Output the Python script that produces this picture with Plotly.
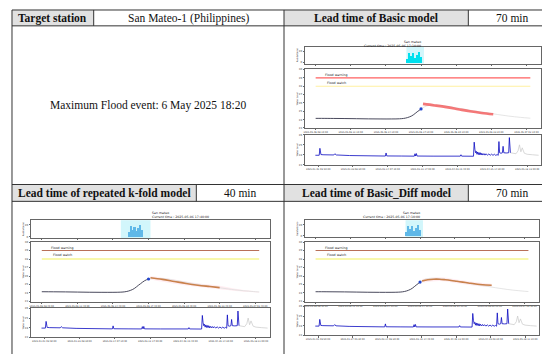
import plotly.graph_objects as go

W, H = 550, 354

# ---------------- data ----------------
station = "San Mateo-1 (Philippines)"
event_text = "Maximum Flood event: 6 May 2025 18:20"
head_basic = "Lead time of Basic model"
head_kfold = "Lead time of repeated k-fold model"
head_diff = "Lead time of Basic_Diff model"
lead_basic = "70 min"
lead_kfold = "40 min"
lead_diff = "70 min"

flood_warning = 29
flood_watch = 28

obs_t = ["2025-05-06 08:10", "2025-05-06 08:40", "2025-05-06 09:40", "2025-05-06 10:40",
         "2025-05-06 11:40", "2025-05-06 12:40", "2025-05-06 13:40", "2025-05-06 14:40",
         "2025-05-06 15:20", "2025-05-06 15:40", "2025-05-06 15:50", "2025-05-06 16:00",
         "2025-05-06 16:10", "2025-05-06 16:20", "2025-05-06 16:30", "2025-05-06 16:40",
         "2025-05-06 16:50", "2025-05-06 17:00", "2025-05-06 17:10", "2025-05-06 17:20",
         "2025-05-06 17:30", "2025-05-06 17:40"]
obs_y = [24.15, 24.15, 24.14, 24.13, 24.11, 24.09, 24.08, 24.08, 24.10, 24.14, 24.18, 24.24,
         24.32, 24.42, 24.56, 24.74, 24.93, 25.10, 25.28, 25.44, 25.56, 25.65]

fut_t = ["2025-05-06 17:10", "2025-05-06 17:40", "2025-05-06 18:40", "2025-05-06 19:40",
         "2025-05-06 20:40", "2025-05-06 21:40", "2025-05-06 22:40", "2025-05-06 23:40",
         "2025-05-07 00:40", "2025-05-07 01:40", "2025-05-07 02:30", "2025-05-07 03:00"]
fut_y = [25.28, 25.65, 25.72, 25.55, 25.30, 25.05, 24.85, 24.62, 24.42, 24.27, 24.17, 24.12]

pred_basic_t = ["2025-05-06 17:20", "2025-05-06 18:20", "2025-05-06 19:20", "2025-05-06 20:20",
                "2025-05-06 21:20", "2025-05-06 22:20", "2025-05-06 23:20"]
pred_basic_y = [25.88, 25.70, 25.50, 25.25, 25.00, 24.80, 24.65]

pred_kfold_t = ["2025-05-06 17:50", "2025-05-06 18:50", "2025-05-06 19:50", "2025-05-06 20:50",
                "2025-05-06 21:50", "2025-05-06 22:50", "2025-05-06 23:40"]
pred_kfold_y = [25.80, 25.60, 25.36, 25.12, 24.92, 24.76, 24.63]

pred_diff_t = ["2025-05-06 17:20", "2025-05-06 17:50", "2025-05-06 18:20", "2025-05-06 18:50",
               "2025-05-06 19:20", "2025-05-06 19:50", "2025-05-06 20:20", "2025-05-06 20:50",
               "2025-05-06 21:20", "2025-05-06 21:50", "2025-05-06 22:20", "2025-05-06 22:50",
               "2025-05-06 23:20"]
pred_diff_y = [25.40, 25.55, 25.62, 25.62, 25.56, 25.48, 25.38, 25.28, 25.18, 25.08, 25.00, 24.95, 24.92]

band_kfold_t = ["2025-05-06 17:50", "2025-05-06 19:50", "2025-05-06 21:50", "2025-05-06 23:40",
                "2025-05-07 01:00", "2025-05-07 03:00"]
band_kfold_up = [26.00, 25.60, 25.15, 24.85, 24.50, 24.15]
band_kfold_lo = [25.60, 25.10, 24.70, 24.45, 24.25, 24.05]

band_diff_t = ["2025-05-06 17:20", "2025-05-06 18:50", "2025-05-06 20:20", "2025-05-06 21:50",
               "2025-05-06 23:20"]
band_diff_up = [25.65, 25.85, 25.60, 25.30, 25.10]
band_diff_lo = [25.20, 25.40, 25.15, 24.85, 24.70]

rain_t = ["2025-05-06 16:00", "2025-05-06 16:10", "2025-05-06 16:20", "2025-05-06 16:30",
          "2025-05-06 16:40", "2025-05-06 16:50", "2025-05-06 17:00", "2025-05-06 17:10"]
rain_v = [7, 18, 12, 17, 9, 14, 19, 11]

hist_u = [-8, 3, 5, 6, 8, 14, 45, 48, 52, 90, 150, 193, 195, 197, 240, 276, 278, 280, 282, 284,
          330, 408, 410, 412, 446, 448, 450, 452, 454, 456, 458, 460, 462, 464, 466, 468, 470,
          473, 476, 479, 482, 486, 490, 494, 498, 502, 506, 510, 514, 517, 519, 521, 525, 529,
          531, 533, 540, 547, 549, 550, 552]
hist_y = [23.95, 23.95, 24.65, 24.15, 24.02, 24.00, 23.98, 24.10, 23.98, 23.92, 23.88, 23.87,
          24.18, 23.88, 23.87, 23.86, 24.10, 23.87, 24.12, 23.87, 23.86, 23.86, 24.00, 23.86,
          23.85, 25.27, 24.55, 24.20, 24.35, 24.05, 24.28, 24.02, 24.22, 24.00, 24.20, 23.98,
          24.15, 23.97, 24.12, 23.96, 24.10, 23.95, 24.08, 23.95, 24.06, 23.94, 24.05, 23.94,
          24.02, 23.94, 25.33, 24.20, 24.15, 24.20, 24.85, 24.20, 24.18, 24.20, 25.73, 24.30,
          24.20]
tail_u = [552, 560, 568, 574, 578, 582, 586, 592, 600, 615, 633]
tail_y = [24.20, 24.12, 24.10, 24.40, 25.00, 24.30, 24.70, 24.15, 24.05, 24.00, 23.95]

wl_ticks_a = ["2025-05-06 08:10:00", "2025-05-06 11:10:00", "2025-05-06 14:10:00",
              "2025-05-06 17:10:00", "2025-05-06 20:10:00", "2025-05-06 23:10:00",
              "2025-05-07 02:10:00"]
wl_ticks_b = ["2025-05-06 08:40:00", "2025-05-06 11:40:00", "2025-05-06 14:40:00",
              "2025-05-06 17:40:00", "2025-05-06 20:40:00", "2025-05-06 23:40:00",
              "2025-05-07 02:40:00"]
hist_tickpos = [0, 100, 200, 300, 400, 500, 600]
hist_ticks_a = ["2025-01-01 09:50:00", "2025-01-23 08:30:00", "2025-02-14 07:10:00",
                "2025-03-12 17:00:00", "2025-04-03 15:40:00", "2025-04-25 14:20:00",
                "2025-05-18 13:00:00"]
hist_ticks_b = ["2025-01-01 09:50:00", "2025-01-23 08:30:00", "2025-02-14 07:10:00",
                "2025-03-12 17:00:00", "2025-04-03 15:40:00", "2025-04-25 14:20:00",
                "2025-05-18 11:00:00"]
hist_ticks_c = ["2025-01-01 09:50:00", "2025-01-27 05:20:00", "2025-02-14 06:30:00",
                "2025-03-12 14:40:00", "2025-04-03 13:00:00", "2025-04-25 09:20:00",
                "2025-05-18 11:10:00"]

panels = [
    dict(cur="2025-05-06 17:10", start="2025-05-06 08:10", end="2025-05-07 02:30",
         rng=["2025-05-06 07:15", "2025-05-07 03:25"], span=["2025-05-06 15:55", "2025-05-06 17:25"],
         pred_t=pred_basic_t, pred_y=pred_basic_y, band=None, wl_ticks=wl_ticks_a,
         hist_ticks=hist_ticks_a, box=(296, 533, 38, 55, 61, 120, 127, 157), title_y=(29, 33.5),
         style="basic"),
    dict(cur="2025-05-06 17:40", start="2025-05-06 08:40", end="2025-05-07 03:00",
         rng=["2025-05-06 07:45", "2025-05-07 03:55"], span=["2025-05-06 15:20", "2025-05-06 17:50"],
         pred_t=pred_kfold_t, pred_y=pred_kfold_y, band=(band_kfold_t, band_kfold_up, band_kfold_lo),
         wl_ticks=wl_ticks_b, hist_ticks=hist_ticks_b, box=(21, 261, 213, 231, 235, 295, 302, 331),
         title_y=(205.5, 209.5), style="other"),
    dict(cur="2025-05-06 17:10", start="2025-05-06 08:10", end="2025-05-07 02:30",
         rng=["2025-05-06 07:15", "2025-05-07 03:25"], span=["2025-05-06 15:55", "2025-05-06 17:25"],
         pred_t=pred_diff_t, pred_y=pred_diff_y, band=(band_diff_t, band_diff_up, band_diff_lo),
         wl_ticks=wl_ticks_a, hist_ticks=hist_ticks_c, box=(296, 531, 213, 230, 235, 295, 300, 329),
         title_y=(206, 210), style="other"),
]

# ---------------- figure ----------------
fig = go.Figure()
layout = {}
shapes = []
annots = []


def px_x(x):
    return x / W


def px_y(y):
    return 1 - y / H


def ax_common():
    return dict(showline=True, mirror=True, linecolor="#666", linewidth=0.6, ticks="outside",
                ticklen=1.5, tickwidth=0.5, tickcolor="#666", showgrid=False, zeroline=False,
                tickangle=0, tickfont=dict(size=2.6, color="#333", family="DejaVu Sans"))


for i, p in enumerate(panels):
    nr, nw, nh = 3 * i + 1, 3 * i + 2, 3 * i + 3
    def xn(n): return "x" if n == 1 else f"x{n}"
    def yn(n): return "y" if n == 1 else f"y{n}"
    def xk(n): return "xaxis" if n == 1 else f"xaxis{n}"
    def yk(n): return "yaxis" if n == 1 else f"yaxis{n}"
    x0, x1, ry0, ry1, wy0, wy1, hy0, hy1 = p["box"]
    xdom = [px_x(x0), px_x(x1)]

    # rainfall
    rc = "#00e0ee" if p["style"] == "basic" else "#5fb8e8"
    shapes.append(dict(type="rect", xref=xn(nr), yref=yn(nr) + " domain", x0=p["span"][0], x1=p["span"][1],
                       y0=0, y1=1, fillcolor="#d2f6fb", line=dict(width=0), layer="below"))
    fig.add_trace(go.Bar(x=rain_t, y=rain_v, width=8 * 60 * 1000, marker=dict(color=rc, line=dict(width=0)),
                         xaxis=xn(nr), yaxis=yn(nr), showlegend=False))
    a = ax_common()
    a.update(domain=xdom, anchor=yn(nr), type="date", range=p["rng"], tickvals=p["wl_ticks"],
             showticklabels=False)
    layout[xk(nr)] = a
    a = ax_common()
    a.update(domain=[px_y(ry1), px_y(ry0)], anchor=xn(nr), range=[-2, 28], tickvals=[0, 20],
             title=dict(text="Rainfall(mm)", font=dict(size=2.2, color="#333"), standoff=1))
    layout[yk(nr)] = a

    # water level
    obs_sel = [(t, v) for t, v in zip(obs_t, obs_y) if p["start"] <= t <= p["cur"]]
    fut_sel = [(t, v) for t, v in zip(fut_t, fut_y) if p["cur"] <= t <= p["end"]]
    if p["style"] == "basic":
        wc, fc, pc, pw = "#ff6060", "#fff0a0", "rgba(242,96,96,0.85)", 2.6
    else:
        wc, fc, pc, pw = "#b87058", "#f2f25a", "#c9814c", 1.6
    fig.add_trace(go.Scatter(x=[p["start"], p["end"]], y=[flood_warning] * 2, mode="lines",
                             line=dict(color=wc, width=1.1), xaxis=xn(nw), yaxis=yn(nw), showlegend=False))
    fig.add_trace(go.Scatter(x=[p["start"], p["end"]], y=[flood_watch] * 2, mode="lines",
                             line=dict(color=fc, width=1.1), xaxis=xn(nw), yaxis=yn(nw), showlegend=False))
    if p["band"] is not None:
        bt, bu, bl = p["band"]
        fig.add_trace(go.Scatter(x=bt, y=bu, mode="lines", line=dict(width=0, shape="spline"),
                                 xaxis=xn(nw), yaxis=yn(nw), showlegend=False))
        fig.add_trace(go.Scatter(x=bt, y=bl, mode="lines", line=dict(width=0, shape="spline"),
                                 fill="tonexty", fillcolor="rgba(255,190,205,0.28)",
                                 xaxis=xn(nw), yaxis=yn(nw), showlegend=False))
    fig.add_trace(go.Scatter(x=[t for t, _ in fut_sel], y=[v for _, v in fut_sel], mode="lines",
                             line=dict(color="#dedede", width=0.8, shape="spline"),
                             xaxis=xn(nw), yaxis=yn(nw), showlegend=False))
    fig.add_trace(go.Scatter(x=[t for t, _ in obs_sel], y=[v for _, v in obs_sel], mode="lines",
                             line=dict(color="#34344a", width=0.9, shape="spline"),
                             xaxis=xn(nw), yaxis=yn(nw), showlegend=False))
    fig.add_trace(go.Scatter(x=p["pred_t"], y=p["pred_y"], mode="lines",
                             line=dict(color=pc, width=pw, shape="spline"),
                             xaxis=xn(nw), yaxis=yn(nw), showlegend=False))
    fig.add_trace(go.Scatter(x=[obs_sel[-1][0]], y=[obs_sel[-1][1]], mode="markers",
                             marker=dict(color="#2244cc", size=3.2),
                             xaxis=xn(nw), yaxis=yn(nw), showlegend=False))
    a = ax_common()
    a.update(domain=xdom, anchor=yn(nw), type="date", range=p["rng"], tickvals=p["wl_ticks"],
             ticktext=p["wl_ticks"], tickfont=dict(size=2.3, color="#333", family="DejaVu Sans"))
    layout[xk(nw)] = a
    a = ax_common()
    a.update(domain=[px_y(wy1), px_y(wy0)], anchor=xn(nw), range=[23, 30], dtick=1,
             title=dict(text="Water Level", font=dict(size=2.2, color="#333"), standoff=1))
    layout[yk(nw)] = a
    annots.append(dict(xref=xn(nw), yref=yn(nw), x=p["start"], y=flood_warning + 0.32, xanchor="left",
                       yanchor="middle", text="Flood warning", showarrow=False, xshift=7,
                       font=dict(size=3.2, color="#222", family="DejaVu Sans")))
    annots.append(dict(xref=xn(nw), yref=yn(nw), x=p["start"], y=flood_watch + 0.42, xanchor="left",
                       yanchor="middle", text="Flood watch", showarrow=False, xshift=9,
                       font=dict(size=3.2, color="#222", family="DejaVu Sans")))

    # history
    fig.add_trace(go.Scatter(x=tail_u, y=tail_y, mode="lines", line=dict(color="#c8c8c8", width=0.7),
                             xaxis=xn(nh), yaxis=yn(nh), showlegend=False))
    fig.add_trace(go.Scatter(x=hist_u, y=hist_y, mode="lines", line=dict(color="#0a0ac0", width=0.8),
                             xaxis=xn(nh), yaxis=yn(nh), showlegend=False))
    a = ax_common()
    a.update(domain=xdom, anchor=yn(nh), range=[-38, 640], tickvals=hist_tickpos, ticktext=p["hist_ticks"],
             tickfont=dict(size=2.3, color="#333", family="DejaVu Sans"))
    layout[xk(nh)] = a
    a = ax_common()
    a.update(domain=[px_y(hy1), px_y(hy0)], anchor=xn(nh), range=[23, 26], dtick=1,
             title=dict(text="Water Level", font=dict(size=2.2, color="#333"), standoff=1))
    layout[yk(nh)] = a

    # titles
    cx = px_x((x0 + x1) / 2)
    annots.append(dict(xref="paper", yref="paper", x=cx, y=px_y(p["title_y"][0]), text="San mateo",
                       showarrow=False, font=dict(size=3.2, color="#222", family="DejaVu Sans")))
    annots.append(dict(xref="paper", yref="paper", x=cx, y=px_y(p["title_y"][1]),
                       text="Current time : " + p["cur"] + ":00",
                       showarrow=False, font=dict(size=3.2, color="#222", family="DejaVu Sans")))

# ---------------- table ----------------
L, R, T, B, MID = 2, 548, 1, 350, 275
R1, R2, R3 = 17, 177, 194
gray = "#e1e1e1"
for (gx0, gy0, gx1, gy1) in [(L, T, 84, R1), (MID, T, 460, R1), (L, R2, 187, R3), (MID, R2, 460, R3)]:
    shapes.append(dict(type="rect", xref="paper", yref="paper", x0=px_x(gx0), x1=px_x(gx1),
                       y0=px_y(gy1), y1=px_y(gy0), fillcolor=gray, line=dict(width=0), layer="below"))
lc = dict(color="#333", width=1)


def hline(y, xa=L, xb=R):
    shapes.append(dict(type="line", xref="paper", yref="paper", x0=px_x(xa), x1=px_x(xb),
                       y0=px_y(y), y1=px_y(y), line=lc))


def vline(x, ya=T, yb=B):
    shapes.append(dict(type="line", xref="paper", yref="paper", x0=px_x(x), x1=px_x(x),
                       y0=px_y(ya), y1=px_y(yb), line=lc))


for y in (T, R1, R2, R3, B):
    hline(y)
for x in (L, MID, R):
    vline(x)
vline(84, T, R1)
vline(460, T, R1)
vline(187, R2, R3)
vline(460, R2, R3)

serif = "Liberation Serif"


def cell_text(txt, cx, cy, bold=False):
    annots.append(dict(xref="paper", yref="paper", x=px_x(cx), y=px_y(cy),
                       text=("<b>%s</b>" % txt) if bold else txt, showarrow=False,
                       xanchor="center", yanchor="middle",
                       font=dict(size=11.5, color="#111", family=serif)))


cy1 = (T + R1) / 2 + 0.5
cy3 = (R2 + R3) / 2 + 0.5
cell_text("Target station", (L + 84) / 2, cy1, True)
cell_text(station, (84 + MID) / 2, cy1)
cell_text(head_basic, (MID + 460) / 2, cy1, True)
cell_text(lead_basic, (460 + R) / 2, cy1)
cell_text(event_text, (L + MID) / 2, 97)
cell_text(head_kfold, (L + 187) / 2, cy3, True)
cell_text(lead_kfold, (187 + MID) / 2, cy3)
cell_text(head_diff, (MID + 460) / 2, cy3, True)
cell_text(lead_diff, (460 + R) / 2, cy3)

fig.update_layout(width=W, height=H, margin=dict(l=0, r=0, t=0, b=0), paper_bgcolor="white",
                  plot_bgcolor="white", showlegend=False, bargap=0, shapes=shapes, annotations=annots,
                  font=dict(family="DejaVu Sans"), **layout)
fig.write_html("out.html")
